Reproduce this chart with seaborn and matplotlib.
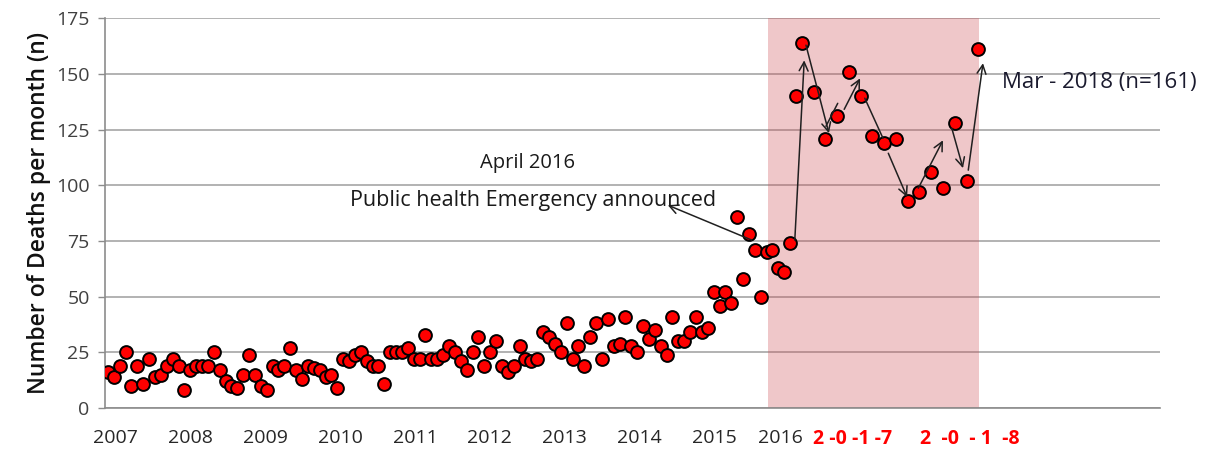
"""
Monthly deaths scatter with the 2016-2018 emergency period shaded.
"""

import numpy as np
import pandas as pd
import matplotlib
matplotlib.use("Agg")
import matplotlib.pyplot as plt
import seaborn as sns

# monthly counts, evenly spaced part of the axis
deaths_early = [16, 14, 19, 25, 10, 19, 11, 22, 14, 15,
                19, 22, 19, 8, 17, 19, 19, 19, 25, 17,
                12, 10, 9, 15, 24, 15, 10, 8, 19, 17,
                19, 27, 17, 13, 19, 18, 17, 14, 15, 9,
                22, 21, 24, 25, 21, 19, 19, 11, 25, 25,
                25, 27, 22, 22, 33, 22, 22, 24, 28, 25,
                21, 17, 25, 32, 19, 25, 30, 19, 16, 19,
                28, 22, 21, 22, 34, 32, 29, 25, 38, 22,
                28, 19, 32, 38, 22, 40, 28, 29, 41, 28,
                25, 37, 31, 35, 28, 24, 41, 30, 30, 34,
                41, 34, 36, 52, 46, 52, 47, 86, 58, 78,
                71, 50, 70, 71, 63, 61, 74, 140, 164]
# later months, drawn with double spacing
deaths_late = [142, 121, 131, 151, 140, 122, 119, 121, 93, 97,
               106, 99, 128, 102, 161]

year_labels = ["2007", "2008", "2009", "2010", "2011", "2012", "2013",
               "2014", "2015", "2016", "2 -0 -1 -7", "2  -0  - 1  -8"]
year_tick_pos = [1.2 + 12.75 * i for i in range(9)] + [114.4, 126.6, 146.6]

x_early = np.arange(len(deaths_early))
x_late = x_early[-1] + 2 * np.arange(1, len(deaths_late) + 1)
df = pd.DataFrame({"pos": np.concatenate([x_early, x_late]),
                   "deaths": deaths_early + deaths_late})

sns.set_style("white")
plt.rcParams["font.family"] = ["Open Sans", "DejaVu Sans"]

fig = plt.figure(figsize=(12.14, 4.55), dpi=100)
ax = fig.add_axes([0.0865, 0.103, 0.869, 0.857])

ax.yaxis.grid(True, color="#a6a6a6", lw=1.2, zorder=1)
ax.set_axisbelow(True)
ax.axvspan(112.2, 148.1, color=(0.80, 0.28, 0.31), alpha=0.3, lw=0, zorder=1.5)

sns.scatterplot(data=df, x="pos", y="deaths", color="red", edgecolor="black",
                s=85, linewidth=1.4, zorder=3, ax=ax)

# arrows drawn through the shaded period
arr = dict(arrowstyle="->", color="#202020", lw=1.1, mutation_scale=16,
           shrinkA=0, shrinkB=0)
line = dict(arrowstyle="-", color="#202020", lw=1.1, shrinkA=0, shrinkB=0)
arrows = [((116.8, 75.4), (118.4, 156.1), arr),
          ((118.7, 162.9), (122.6, 123.4), arr),
          ((122.1, 126.5), (124.1, 136.8), line),
          ((125.2, 134.1), (127.9, 148.0), arr),
          ((128.7, 139.1), (131.8, 121.1), line),
          ((132.7, 114.4), (135.9, 94.7), arr),
          ((137.8, 98.7), (142.0, 120.2), arr),
          ((143.5, 125.6), (145.4, 107.7), arr),
          ((146.3, 106.8), (148.8, 154.8), arr)]
for tail, head, style in arrows:
    ax.annotate("", xy=head, xytext=tail, arrowprops=style, zorder=4)

ax.annotate("", xy=(95.2, 91.1), xytext=(109.5, 75.4), arrowprops=arr)
ax.text(71.3, 110, "April 2016", fontsize=14.5, ha="center", va="center", color="#1a1a1a")
ax.text(72.3, 93.3, "Public health Emergency announced", fontsize=15.5,
        ha="center", va="center", color="#1a1a1a")
ax.text(152.0, 146.3, "Mar - 2018 (n=161)", fontsize=16, ha="left", va="center",
        color="#1a1a2e")

ax.set_xlim(-0.5, 178.9)
ax.set_ylim(0, 175)
ax.set_yticks(range(0, 176, 25))
ax.set_xticks(year_tick_pos)
ax.set_xticklabels(year_labels)

ax.set_xlabel("")
ax.set_ylabel("Number of Deaths per month (n)", fontsize=16.5, fontweight="semibold",
              color="#111111", labelpad=4)

sns.despine(ax=ax)
for side in ["left", "bottom"]:
    ax.spines[side].set_color("#8c8c8c")
    ax.spines[side].set_linewidth(1.2)

ax.tick_params(axis="y", length=5, width=1, color="#8c8c8c", labelsize=14,
               labelcolor="#404040", pad=6, left=True)
ax.tick_params(axis="x", length=0, labelsize=14, labelcolor="#262626", pad=15)
for lbl in ax.get_xticklabels()[-2:]:
    lbl.set_color("red")
    lbl.set_fontweight("bold")

fig.savefig("out.png", dpi=100)
